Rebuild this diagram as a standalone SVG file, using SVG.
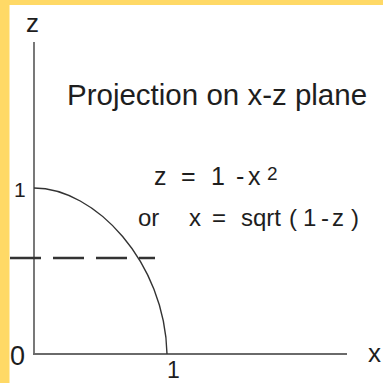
<svg xmlns="http://www.w3.org/2000/svg" width="383" height="383" viewBox="0 0 383 383">
<style>
.t{font-family:"Liberation Sans",Arial,sans-serif;fill:#1e1e1e}
.axis{stroke:#6a6a6a;stroke-width:1.8;fill:none}
.curve{stroke:#333;stroke-width:1.4;fill:none}
.dash{stroke:#333;stroke-width:2.5;stroke-dasharray:31 12;fill:none}
</style>
<rect x="0" y="0" width="383" height="383" fill="#fff"/>
<g id="frame">
<rect x="0" y="0" width="383" height="5" fill="#FFD966"/>
<rect x="0" y="0" width="9.5" height="383" fill="#FFD966"/>
</g>
<g id="axes">
<line class="axis" x1="34" y1="42" x2="34" y2="354"/>
<line class="axis" x1="33" y1="354" x2="347" y2="354"/>
</g>
<g id="curve">
<path class="curve" d="M34,188 C95,188 165,262 167,354"/>
</g>
<g id="dashed">
<line class="dash" x1="10" y1="258" x2="155" y2="258"/>
</g>
<g id="labels">
<text class="t" x="26" y="32" font-size="26">z</text>
<text class="t" x="14" y="197" font-size="21">1</text>
<text class="t" x="10" y="365" font-size="27">0</text>
<text class="t" x="167" y="378" font-size="23">1</text>
<text class="t" x="368" y="362" font-size="26">x</text>
</g>
<g id="title">
<text class="t" x="67" y="105" font-size="29.5">Projection on x-z plane</text>
</g>
<g id="equations">
<text class="t" font-size="25" y="185"><tspan x="154">z</tspan><tspan x="181">=</tspan><tspan x="211">1</tspan><tspan x="236">-</tspan><tspan x="248">x</tspan><tspan x="267" dy="-5" font-size="19">2</tspan></text>
<text class="t" font-size="24" y="226"><tspan x="138">or</tspan><tspan x="189">x</tspan><tspan x="212">=</tspan><tspan x="241">sqrt</tspan><tspan x="289">(</tspan><tspan x="303">1</tspan><tspan x="321">-</tspan><tspan x="332">z</tspan><tspan x="351">)</tspan></text>
</g>
</svg>
